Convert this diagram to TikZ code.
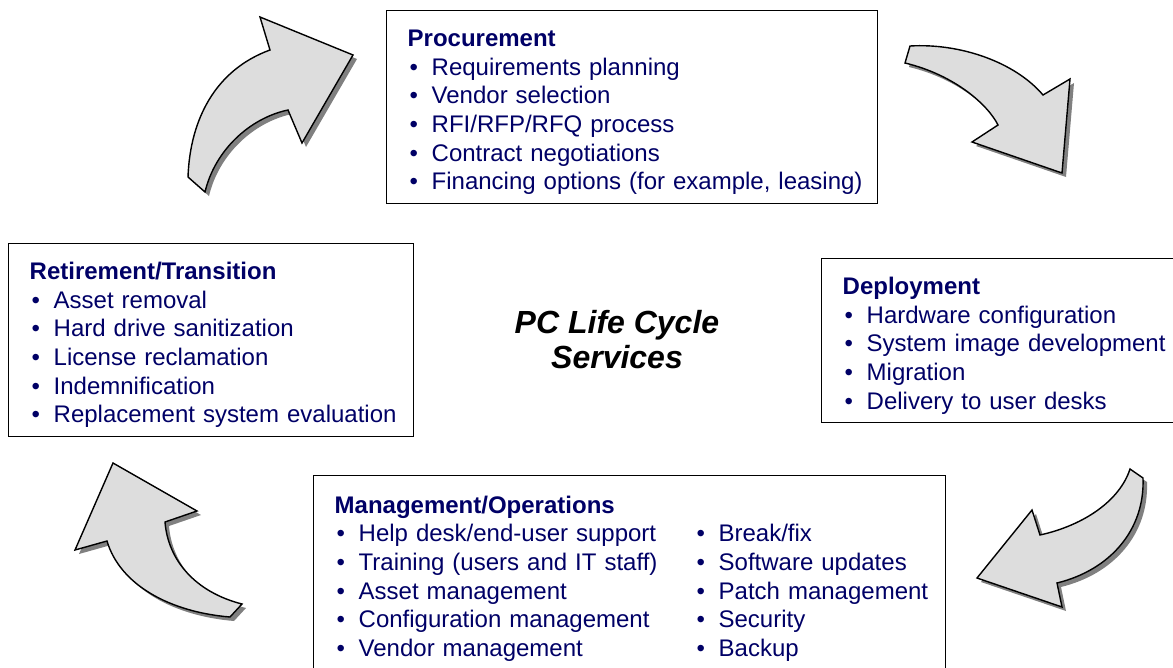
\documentclass[tikz,border=0pt]{standalone}
\usepackage{fontspec}
\setmainfont{Liberation Sans}
\usetikzlibrary{shadows}

\definecolor{navytext}{RGB}{0,0,102}
\definecolor{arrowgray}{RGB}{221,221,221}
\definecolor{shadowgray}{RGB}{128,128,128}

% one bullet line, kept in one piece
\newcommand{\itm}[1]{\mbox{\hspace*{2pt}\makebox[22pt][l]{\textbullet}#1}}
% heading of a stage, a bit of air above it
\newcommand{\hd}[1]{\rule{0pt}{27pt}\textbf{#1}}

\begin{document}
\begin{tikzpicture}[
  x=1pt, y=-1pt,
  stagebox/.style={rectangle, draw, line width=1.4pt, anchor=north west, align=left,
    inner xsep=21pt, inner ysep=0pt, text=navytext,
    font=\fontsize{24}{28.7}\selectfont},
  bigarrow/.style={fill=arrowgray, draw=black, line width=1.4pt, line join=miter,
    drop shadow={shadow xshift=4pt, shadow yshift=-4pt, fill=shadowgray, opacity=1}}
]
  \useasboundingbox (0,0) rectangle (1173,667);

  \node[stagebox, text width=449pt, minimum height=193pt] (proc) at (386,10)
    {\hd{Procurement}\\
     \itm{Requirements planning}\\
     \itm{Vendor selection}\\
     \itm{RFI/RFP/RFQ process}\\
     \itm{Contract negotiations}\\
     \itm{Financing options (for example, leasing)}};

  \node[stagebox, text width=328pt, minimum height=164pt] (deploy) at (821,258)
    {\hd{Deployment}\\
     \itm{Hardware configuration}\\
     \itm{System image development}\\
     \itm{Migration}\\
     \itm{Delivery to user desks}};

  \node[stagebox, text width=590pt, minimum height=200pt] (mgmt) at (313,475)
    {\begin{tabular}{@{}p{360pt}@{}l@{}}
       \multicolumn{2}{@{}l@{}}{\hd{Management/Operations}}\\
       \itm{Help desk/end-user support} & \itm{Break/fix}\\
       \itm{Training (users and IT staff)} & \itm{Software updates}\\
       \itm{Asset management} & \itm{Patch management}\\
       \itm{Configuration management} & \itm{Security}\\
       \itm{Vendor management} & \itm{Backup}
     \end{tabular}};

  \node[stagebox, text width=363pt, minimum height=193pt] (retire) at (8,243)
    {\hd{Retirement/Transition}\\
     \itm{Asset removal}\\
     \itm{Hard drive sanitization}\\
     \itm{License reclamation}\\
     \itm{Indemnification}\\
     \itm{Replacement system evaluation}};

  \node[align=center, font=\fontsize{32}{35}\selectfont\bfseries\itshape] (cycle) at (617,340)
    {PC Life Cycle\\Services};

  % curved block arrows between the stages
  \draw[bigarrow] (188,177) .. controls (190,120) and (215,70) .. (270,50) -- (260,17)
    -- (353,55) -- (302,143) -- (288,110) .. controls (250,118) and (215,150) .. (205,192) -- cycle;
  \draw[bigarrow] (910,46) .. controls (960,43) and (1015,62) .. (1043,95) -- (1070,79)
    -- (1062,173) -- (972,142) -- (998,125) .. controls (988,105) and (955,75) .. (905,63) -- cycle;
  \draw[bigarrow] (1143,478) .. controls (1145,530) and (1110,570) .. (1057,583) -- (1062,607)
    -- (977,578) -- (1032,510) -- (1040,535) .. controls (1085,525) and (1120,500) .. (1130,469) -- cycle;
  \draw[bigarrow] (230,617) .. controls (170,612) and (120,585) .. (107,541) -- (75,550)
    -- (113,463) -- (197,511) -- (165,522) .. controls (168,560) and (195,592) .. (242,604) -- cycle;
\end{tikzpicture}
\end{document}
